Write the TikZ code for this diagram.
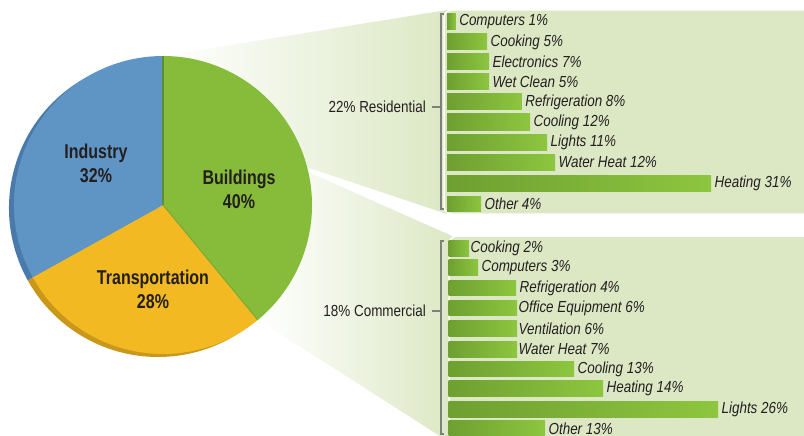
\documentclass[tikz,border=0pt]{standalone}
\usepackage{fontspec}
\setmainfont{Liberation Sans}
\newfontfamily\cond[FakeStretch=0.84]{Liberation Sans}
\newfontfamily\condb[FakeStretch=0.80]{Liberation Sans}
\definecolor{panelc}{HTML}{DCE8C4}
\definecolor{bldg}{HTML}{86BC3A}
\definecolor{bldgd}{HTML}{5F8F2A}
\definecolor{indus}{HTML}{5F95C5}
\definecolor{trans}{HTML}{F2B922}
\definecolor{indusd}{HTML}{4A7AAA}
\definecolor{transd}{HTML}{C9981A}
\definecolor{bardark}{HTML}{6E9F31}
\definecolor{barlight}{HTML}{8DC63F}
\definecolor{txt}{HTML}{231F20}
\definecolor{brk}{HTML}{7F7F7F}
\begin{document}
\begin{tikzpicture}[x=1pt,y=-1pt,
  bar/.style={anchor=west, inner sep=0, minimum height=16, left color=bardark, right color=barlight},
  lbl/.style={anchor=west, inner sep=0, xshift=3, text=txt, font=\cond\itshape\fontsize{16}{16}\selectfont},
  cat/.style={anchor=east, inner sep=0, text=txt, font=\cond\fontsize{16}{16}\selectfont},
  pielbl/.style={align=center, inner sep=0, text=txt, font=\condb\bfseries\fontsize{20}{24}\selectfont},
  panel/.style={draw=white, line width=1.5, fill=panelc, rounded corners=8},
  brack/.style={draw=brk, line width=1.3},
  tick/.style={draw=brk, line width=2}]
\useasboundingbox (0,0) rectangle (804,436);
\clip (0,0) rectangle (804,436);

% fans
\shade[left color=white, right color=panelc] (163,56) -- (447,10) -- (447,214) -- (306,167) -- cycle;
\shade[left color=white, right color=panelc] (306,171) -- (452,236) -- (452,440) -- (446,440) -- (257,319) -- cycle;

% panels
\draw[panel] (444,10) rectangle (830,214);
\draw[panel] (449,236) rectangle (830,460);

% pie
\begin{scope}[shift={(163,205)}, y=1pt]
  \begin{scope}[shift={(-5,-3)}]
    \fill[transd] (0,0) -- (-50.5:149) arc[start angle=-50.5, end angle=-151, radius=149] -- cycle;
    \fill[indusd] (0,0) -- (-151:149) arc[start angle=-151, end angle=-270, radius=149] -- cycle;
  \end{scope}
  \fill[bldg] (0,0) -- (90:149) arc[start angle=90, end angle=-50.5, radius=149] -- cycle;
  \fill[trans] (0,0) -- (-50.5:149) arc[start angle=-50.5, end angle=-151, radius=149] -- cycle;
  \fill[indus] (0,0) -- (-151:149) arc[start angle=-151, end angle=-270, radius=149] -- cycle;
  \draw[bldgd, line width=1.6] (0,0) -- (90:149);
  \draw[bldgd!50!bldg, line width=0.8] (0,0) -- (-50.5:149);
\end{scope}

\node[pielbl] (ind) at (96,163) {Industry\\32\%};
\node[pielbl] (bld) at (239,189) {Buildings\\40\%};
\node[pielbl] (trn) at (153,289) {Transportation\\28\%};

% residential
\node[cat] (resl) at (426,107) {22\% Residential};
\draw[brack] (444,14) -- (441,14) -- (441,209) -- (444,209);
\coordinate (rb) at (441,107);
\draw[tick] (resl.east) ++(6,0) -- (rb);

\node[bar, minimum width=8.7] (r1) at (447,21.3) {};
\node[bar, minimum width=40] (r2) at (447,42) {};
\node[bar, minimum width=42] (r3) at (447,62) {};
\node[bar, minimum width=42] (r4) at (447,82) {};
\node[bar, minimum width=74.7] (r5) at (447,102) {};
\node[bar, minimum width=83] (r6) at (447,122) {};
\node[bar, minimum width=100] (r7) at (447,142) {};
\node[bar, minimum width=108] (r8) at (447,162) {};
\node[bar, minimum width=264] (r9) at (447,183) {};
\node[bar, minimum width=34, minimum height=15] (r10) at (447,203.5) {};

\node[lbl] (rl1) at (r1.east) {Computers 1\%};
\node[lbl] (rl2) at (r2.east) {Cooking 5\%};
\node[lbl] (rl3) at (r3.east) {Electronics 7\%};
\node[lbl] (rl4) at (r4.east) {Wet Clean 5\%};
\node[lbl] (rl5) at (r5.east) {Refrigeration 8\%};
\node[lbl] (rl6) at (r6.east) {Cooling 12\%};
\node[lbl] (rl7) at (r7.east) {Lights 11\%};
\node[lbl] (rl8) at (r8.east) {Water Heat 12\%};
\node[lbl] (rl9) at (r9.east) {Heating 31\%};
\node[lbl] (rl10) at (r10.east) {Other 4\%};

% commercial
\node[cat] (coml) at (426,311) {18\% Commercial};
\draw[brack] (444,241) -- (441,241) -- (441,434) -- (444,434);
\coordinate (cb) at (441,311);
\draw[tick] (coml.east) ++(6,0) -- (cb);

\node[bar, minimum width=20.7, minimum height=15.5] (c1) at (448.3,248.5) {};
\node[bar, minimum width=29.7, minimum height=15.5] (c2) at (448.3,267.5) {};
\node[bar, minimum width=67.7, minimum height=15.5] (c3) at (448.3,288) {};
\node[bar, minimum width=68.7, minimum height=15.5] (c4) at (448.3,308) {};
\node[bar, minimum width=68.7, minimum height=15.5] (c5) at (448.3,328.3) {};
\node[bar, minimum width=68.7, minimum height=15.5] (c6) at (448.3,349.5) {};
\node[bar, minimum width=125.7, minimum height=15.5] (c7) at (448.3,369) {};
\node[bar, minimum width=154.7, minimum height=15.5] (c8) at (448.3,388.5) {};
\node[bar, minimum width=269.7, minimum height=15.5] (c9) at (448.3,409.5) {};
\node[bar, minimum width=96.7, minimum height=15.5] (c10) at (448.3,428.5) {};

\node[lbl, xshift=-2] (cl1) at (c1.east) {Cooking 2\%};
\node[lbl] (cl2) at (c2.east) {Computers 3\%};
\node[lbl] (cl3) at (c3.east) {Refrigeration 4\%};
\node[lbl, xshift=-2] (cl4) at (c4.east) {Office Equipment 6\%};
\node[lbl, xshift=-2] (cl5) at (c5.east) {Ventilation 6\%};
\node[lbl, xshift=-2] (cl6) at (c6.east) {Water Heat 7\%};
\node[lbl] (cl7) at (c7.east) {Cooling 13\%};
\node[lbl] (cl8) at (c8.east) {Heating 14\%};
\node[lbl] (cl9) at (c9.east) {Lights 26\%};
\node[lbl] (cl10) at (c10.east) {Other 13\%};
\end{tikzpicture}
\end{document}
